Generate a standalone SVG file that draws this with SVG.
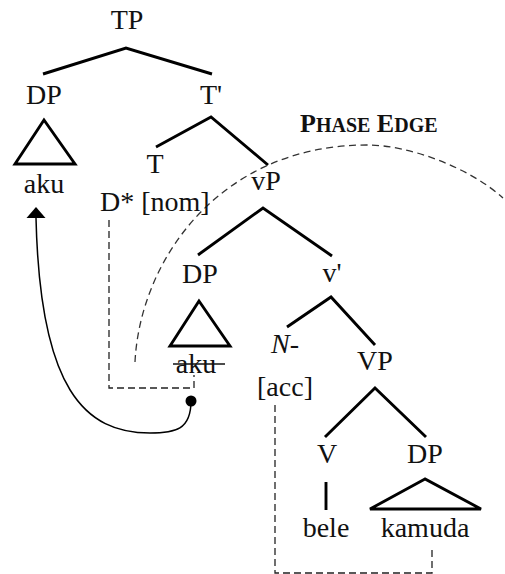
<svg xmlns="http://www.w3.org/2000/svg" width="505" height="574" viewBox="0 0 505 574">
<style>
.lbl{font-family:"Liberation Serif","Times New Roman",serif;font-size:28px;fill:#111;text-anchor:middle}
.edge{stroke:#000;stroke-width:2.9;fill:none;stroke-linecap:butt}
.tri{stroke:#000;stroke-width:2.9;fill:none;stroke-linejoin:miter}
.dash{stroke:#222;stroke-width:1.3;fill:none;stroke-dasharray:7 4}
.arc{stroke:#333;stroke-width:1.3;fill:none;stroke-dasharray:7 4.5}
.move{stroke:#000;stroke-width:1.5;fill:none}
</style>
<rect width="505" height="574" fill="#fff"/>

<g id="connectors">
<path class="edge" d="M43,74 L126,48 L212,74"/>
<path class="edge" d="M156,147 L211,117 L268,165"/>
<path class="edge" d="M198,255 L263,208 L332,256"/>
<path class="edge" d="M287,327 L331,297 L375,345"/>
<path class="edge" d="M325,437 L375,388 L426,437"/>
<path class="edge" d="M326,482 L326,510"/>
<path class="tri" d="M44,120 L15,164 L75,164 Z"/>
<path class="tri" d="M199,301 L170,346 L230,346 Z"/>
<path class="tri" d="M425,479 L370,509 L481,509 Z"/>
<path class="dash" d="M109,220 V388 H194 V375"/>
<path class="dash" d="M275,405 V573 H432 V547"/>
<path class="arc" d="M135,362 C140,260 220,145 367,145 C410,145 470,168 503,198"/>
<path class="move" d="M191,401 C191,430 175,433 150,433 C85,433 40,390 36,218"/>
<path d="M36,207 L26.5,218 L45.5,218 Z" fill="#000"/>
<circle cx="191" cy="401" r="5.5" fill="#000"/>
</g>

<g id="TP"><text class="lbl" x="127" y="29">TP</text></g>
<g id="DP-spec"><text class="lbl" x="44" y="104">DP</text><text class="lbl" x="44" y="193">aku</text></g>
<g id="Tbar"><text class="lbl" x="211" y="104">T'</text></g>
<g id="T"><text class="lbl" x="155" y="173">T</text><text class="lbl" x="100" y="211" style="text-anchor:start">D* [nom]</text></g>
<g id="phase-edge"><text x="300" y="132" style="font-family:'Liberation Serif','Times New Roman',serif;font-weight:bold;fill:#111"><tspan font-size="26">P</tspan><tspan font-size="20">HASE</tspan><tspan font-size="26"> E</tspan><tspan font-size="20">DGE</tspan></text></g>
<g id="vP"><text class="lbl" x="266" y="190">vP</text></g>
<g id="DP-low"><text class="lbl" x="200" y="283">DP</text><text class="lbl" x="196" y="373">aku</text><line x1="173" y1="364" x2="225" y2="364" stroke="#111" stroke-width="1.5"/></g>
<g id="vbar"><text class="lbl" x="332" y="282">v'</text></g>
<g id="N"><text class="lbl" x="271" y="353" style="text-anchor:start"><tspan font-style="italic">N</tspan>-</text><text class="lbl" x="285" y="396">[acc]</text></g>
<g id="VP"><text class="lbl" x="375" y="370">VP</text></g>
<g id="V"><text class="lbl" x="327" y="463">V</text><text class="lbl" x="326" y="537">bele</text></g>
<g id="DP-obj"><text class="lbl" x="425" y="463">DP</text><text class="lbl" x="425" y="537">kamuda</text></g>
</svg>
